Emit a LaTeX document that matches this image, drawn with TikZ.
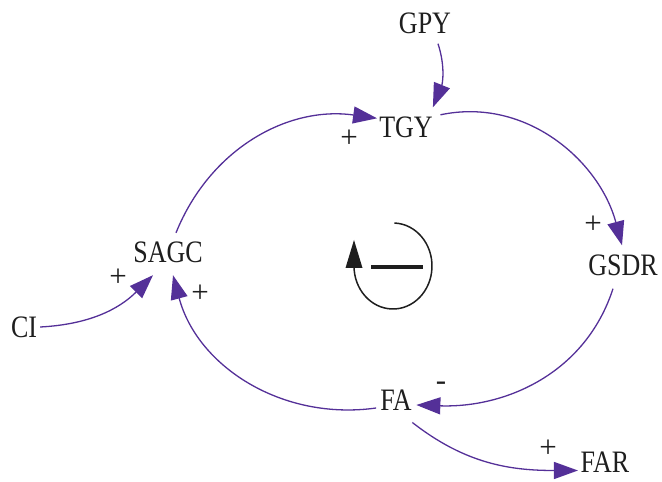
\documentclass[tikz,border=0pt]{standalone}
\usepackage{fontspec}
\usepackage{graphicx}
\setmainfont{Liberation Serif}
\usetikzlibrary{arrows.meta}
\definecolor{sdPurple}{RGB}{84,48,152}
\definecolor{sdInk}{RGB}{30,30,30}
\newcommand{\sdTall}[1]{\scalebox{1}[1.2]{#1}}

\begin{document}
\begin{tikzpicture}[x=1pt,y=1pt,
  var/.style={inner sep=0pt, text=sdInk, font=\fontsize{26}{30}\selectfont},
  sgn/.style={inner sep=0pt, text=sdInk, font=\fontsize{31}{34}\selectfont},
  link/.style={draw=sdPurple, line width=1.3pt, -{Triangle[length=24pt,width=17pt]}}]
\useasboundingbox (0,0) rectangle (662,482);
\node[var] (GPY) at (425,459) {\sdTall{GPY}};
\node[var] (TGY) at (406,355) {\sdTall{TGY}};
\node[var] (SAGC) at (168,229.5) {\sdTall{SAGC}};
\node[var] (GSDR) at (623,217) {\sdTall{GSDR}};
\node[var] (CI) at (24,155) {\sdTall{CI}};
\node[var] (FA) at (396,82) {\sdTall{FA}};
\node[var] (FAR) at (605,20) {\sdTall{FAR}};
\node[sgn] (pTGY) at (349,343) {+};
\node[sgn] (pGSDR) at (593,257) {+};
\node[sgn] (pCI) at (118,204) {+};
\node[sgn] (pFA) at (200,188) {+};
\node[sgn] (mFA) at (441,96) {-};
\node[sgn] (pFAR) at (548,33) {+};
\draw[link] ([shift={(13,-10)}]GPY.south) to[out=-72,in=68] ([yshift=9]TGY.north east);
\draw[link] ([shift={(8,9)}]SAGC.north) to[out=68,in=172] ([shift={(-2,-2)}]TGY.north west);
\draw[link] ([shift={(7.5,1.5)}]TGY.north east) to[out=12,in=105] ([shift={(-1,9)}]GSDR.north);
\draw[link] ([shift={(-10,-13)}]GSDR.south) to[out=-108,in=-2] ([shift={(4.5,-5)}]FA.east);
\draw[link] ([shift={(-4,-8)}]FA.west) to[out=188,in=-75] ([shift={(5,-12)}]SAGC.south);
\draw[link] ([xshift=3]CI.east) to[out=3,in=-135] ([shift={(-15,-12)}]SAGC.south);
\draw[link] ([shift={(0.5,-12)}]FA.south east) to[out=-38,in=180] ([shift={(-2.5,2)}]FAR.south west);
\coordinate (loop) at (393,216);
\draw[line width=1.5pt, sdInk] ([shift={(88:39 and 43)}]loop) arc[start angle=88, end angle=-180, x radius=39, y radius=43];
\fill[sdInk] (354,242) -- (345.5,214) -- (362.5,214) -- cycle;
\draw[line width=4pt, sdInk] (371,215) -- (423,215);
\end{tikzpicture}
\end{document}
